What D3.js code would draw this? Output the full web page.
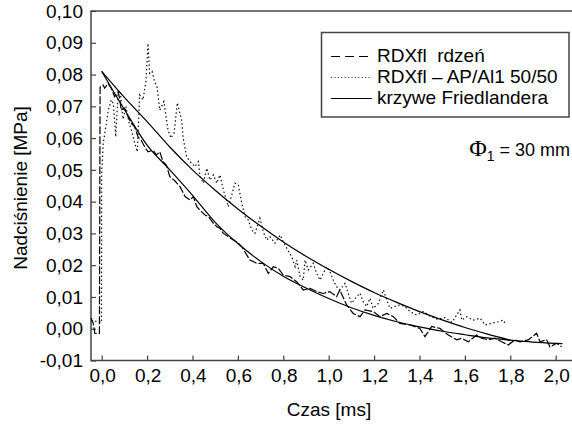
<!DOCTYPE html>
<html>
<head>
<meta charset="utf-8">
<script src="https://cdn.jsdelivr.net/npm/d3@7"></script>
<style>
  body { margin: 0; background: #fff; }
  svg { display: block; font-family: 'Liberation Sans', Arial, sans-serif; }
</style>
</head>
<body>
<svg id="chart" width="572" height="426"></svg>
<script>
// RDXfl rdzeń (dashed)
const rdzenTime = [-0.047, -0.038, -0.030, -0.010, -0.007, 0.006, 0.013, 0.028, 0.042, 0.057, 0.072, 0.079, 0.086,
  0.101, 0.116, 0.130, 0.145, 0.160, 0.174, 0.189, 0.204, 0.226, 0.241, 0.256, 0.270, 0.285, 0.300, 0.323, 0.345,
  0.367, 0.389, 0.404, 0.419, 0.433, 0.455, 0.470, 0.492, 0.507, 0.521, 0.536, 0.558, 0.580, 0.602, 0.617, 0.653,
  0.683, 0.712, 0.734, 0.756, 0.778, 0.800, 0.830, 0.859, 0.888, 0.918, 0.947, 0.976, 1.005, 1.035, 1.049, 1.079,
  1.108, 1.138, 1.160, 1.196, 1.226, 1.256, 1.285, 1.314, 1.358, 1.402, 1.424, 1.454, 1.490, 1.527, 1.564, 1.586,
  1.615, 1.652, 1.674, 1.703, 1.733, 1.762, 1.791, 1.821, 1.843, 1.879, 1.916, 1.931, 1.960, 1.975, 2.004, 2.026]
const rdzenP = [0.0034, 0.0019, -0.0015, -0.0015, 0.0760, 0.0767, 0.0757, 0.0772, 0.0757, 0.0730, 0.0746, 0.0725, 0.0688,
  0.0694, 0.0667, 0.0646, 0.0636, 0.0604, 0.0594, 0.0573, 0.0557, 0.0562, 0.0547, 0.0557, 0.0526, 0.0515, 0.0479, 0.0465, 0.0447,
  0.0416, 0.0405, 0.0416, 0.0384, 0.0373, 0.0358, 0.0353, 0.0332, 0.0321, 0.0316, 0.0300, 0.0290, 0.0279, 0.0269, 0.0258, 0.0216,
  0.0206, 0.0206, 0.0174, 0.0195, 0.0190, 0.0169, 0.0164, 0.0148, 0.0122, 0.0127, 0.0117, 0.0111, 0.0117, 0.0101, 0.0122, 0.0075,
  0.0048, 0.0038, 0.0059, 0.0054, 0.0038, 0.0048, 0.0038, 0.0017, 0.0012, 0.0001, -0.0025, 0.0007, 0.0001, -0.0020, -0.0035, -0.0030,
  -0.0041, -0.0020, -0.0030, -0.0035, -0.0030, -0.0041, -0.0051, -0.0035, -0.0041, -0.0035, -0.0014, -0.0041, -0.0035, -0.0057, -0.0046, -0.0057]

// RDXfl – AP/Al1 50/50 (dotted)
const apalTime = [-0.047, -0.012, -0.001, 0.000, 0.007, 0.019, 0.029, 0.042, 0.051, 0.062, 0.072, 0.081, 0.094, 0.107,
  0.120, 0.133, 0.147, 0.157, 0.167, 0.182, 0.195, 0.204, 0.211, 0.222, 0.233, 0.244, 0.256, 0.274, 0.292, 0.305,
  0.319, 0.333, 0.352, 0.359, 0.374, 0.396, 0.411, 0.426, 0.433, 0.448, 0.463, 0.477, 0.492, 0.507, 0.521, 0.536,
  0.558, 0.573, 0.587, 0.602, 0.617, 0.631, 0.646, 0.661, 0.675, 0.697, 0.712, 0.727, 0.741, 0.763, 0.786, 0.807,
  0.837, 0.852, 0.859, 0.874, 0.888, 0.896, 0.910, 0.932, 0.947, 0.962, 0.976, 0.991, 1.005, 1.020, 1.035, 1.050,
  1.072, 1.086, 1.101, 1.123, 1.138, 1.152, 1.167, 1.182, 1.196, 1.219, 1.241, 1.256, 1.270, 1.292, 1.314, 1.336,
  1.358, 1.388, 1.417, 1.446, 1.477, 1.512, 1.543, 1.578, 1.586, 1.608, 1.637, 1.667, 1.689, 1.718, 1.747, 1.769, 1.777]
const apalP = [0.0025, 0.0022, 0.0020, 0.0490, 0.0584, 0.0640, 0.0688, 0.0720, 0.0710, 0.0604, 0.0741, 0.0750, 0.0660, 0.0700,
  0.0650, 0.0620, 0.0580, 0.0557, 0.0736, 0.0720, 0.0780, 0.0898, 0.0804, 0.0810, 0.0778, 0.0760, 0.0688, 0.0715, 0.0626, 0.0600,
  0.0616, 0.0711, 0.0657, 0.0600, 0.0541, 0.0521, 0.0510, 0.0526, 0.0479, 0.0458, 0.0505, 0.0468, 0.0484, 0.0458, 0.0484, 0.0437,
  0.0384, 0.0421, 0.0458, 0.0452, 0.0395, 0.0353, 0.0342, 0.0311, 0.0300, 0.0348, 0.0305, 0.0279, 0.0290, 0.0269, 0.0295, 0.0264,
  0.0227, 0.0195, 0.0216, 0.0164, 0.0153, 0.0216, 0.0185, 0.0206, 0.0174, 0.0153, 0.0174, 0.0195, 0.0180, 0.0153, 0.0132, 0.0122,
  0.0143, 0.0112, 0.0080, 0.0101, 0.0112, 0.0085, 0.0070, 0.0096, 0.0064, 0.0080, 0.0122, 0.0090, 0.0064, 0.0070, 0.0075, 0.0070,
  0.0054, 0.0043, 0.0054, 0.0040, 0.0030, 0.0035, 0.0020, 0.0059, 0.0027, 0.0038, 0.0027, 0.0033, 0.0012, 0.0017, 0.0022, 0.0027, 0.0017]

// krzywe Friedlandera (solid)
const friedTime = [0, 0.1, 0.2, 0.3, 0.4, 0.5, 0.6, 0.7, 0.8, 0.9, 1.0, 1.1, 1.2, 1.3, 1.4, 1.5, 1.6, 1.7, 1.8, 1.9, 2.0, 2.03]
const friedLower = [0.081, 0.0690, 0.0578, 0.0500, 0.0420, 0.0335, 0.0268, 0.0212, 0.0165, 0.0128, 0.0095, 0.0066,
  0.0042, 0.0022, 0.0006, -0.0008, -0.0019, -0.0029, -0.0036, -0.0042, -0.0046, -0.0047]
const friedUpper = [0.081, 0.0728, 0.0652, 0.0572, 0.0500, 0.0436, 0.0377, 0.0323, 0.0273, 0.0228, 0.0187, 0.0149,
  0.0114, 0.0083, 0.0054, 0.0028, 0.0004, -0.0017, -0.0036]

const yTicks = [-0.01, 0, 0.01, 0.02, 0.03, 0.04, 0.05, 0.06, 0.07, 0.08, 0.09, 0.10]
const xTicks = [0, 0.2, 0.4, 0.6, 0.8, 1.0, 1.2, 1.4, 1.6, 1.8, 2.0]

const legendLabels = ['RDXfl  rdzeń', 'RDXfl – AP/Al1 50/50', 'krzywe Friedlandera']
const legendDash = ['9,5', '1.2,2.2', null]

const locale = d3.formatLocale({ decimal: ',', thousands: ' ', grouping: [3], currency: ['', ''], minus: '-' })
const fmtY = locale.format('.2f')
const fmtX = locale.format('.1f')

const plotLeft = 91
const plotRight = 573
const plotTop = 11
const plotBottom = 360.5

const x = d3.scaleLinear().domain([-0.0471, 2.0763]).range([plotLeft, plotRight])
const y = d3.scaleLinear().domain([-0.01, 0.10]).range([plotBottom, plotTop])

const svg = d3.select('#chart')
const ink = '#000'

function series(times, values) {
  return times.map((t, i) => [t, values[i]])
}

const line = d3.line().x(d => x(d[0])).y(d => y(d[1]))
const smooth = d3.line().x(d => x(d[0])).y(d => y(d[1])).curve(d3.curveMonotoneX)

// frame
svg.append('rect')
  .attr('x', plotLeft).attr('y', plotTop)
  .attr('width', plotRight - plotLeft).attr('height', plotBottom - plotTop)
  .attr('fill', 'none').attr('stroke', '#444').attr('stroke-width', 1.5)

// y axis (ticks inside)
const yAxis = svg.append('g')
  .attr('transform', `translate(${plotLeft},0)`)
  .call(d3.axisRight(y).tickValues(yTicks).tickSize(5).tickFormat(''))
yAxis.select('.domain').remove()
yAxis.selectAll('line').attr('stroke', '#444').attr('stroke-width', 1.2)

svg.append('g').selectAll('text')
  .data(yTicks)
  .join('text')
  .attr('x', 83)
  .attr('y', d => y(d))
  .attr('dy', '0.35em')
  .attr('text-anchor', 'end')
  .attr('font-size', 19)
  .attr('fill', ink)
  .text(d => fmtY(d))

// x axis (ticks inside)
const xAxis = svg.append('g')
  .attr('transform', `translate(0,${plotBottom})`)
  .call(d3.axisTop(x).tickValues(xTicks).tickSize(5).tickFormat(''))
xAxis.select('.domain').remove()
xAxis.selectAll('line').attr('stroke', '#444').attr('stroke-width', 1.2)

svg.append('g').selectAll('text')
  .data(xTicks)
  .join('text')
  .attr('x', d => x(d) + 1)
  .attr('y', 382)
  .attr('text-anchor', 'middle')
  .attr('font-size', 19)
  .attr('fill', ink)
  .text(d => fmtX(d))

svg.append('text')
  .attr('x', 329).attr('y', 416)
  .attr('text-anchor', 'middle')
  .attr('font-size', 19)
  .attr('fill', ink)
  .text('Czas [ms]')

svg.append('text')
  .attr('transform', 'translate(27,188) rotate(-90)')
  .attr('text-anchor', 'middle')
  .attr('font-size', 19)
  .attr('fill', ink)
  .text('Nadciśnienie [MPa]')

// data
svg.append('path')
  .datum(series(apalTime, apalP))
  .attr('d', line)
  .attr('fill', 'none').attr('stroke', '#111').attr('stroke-width', 1.2)
  .attr('stroke-dasharray', '1.5,2.5')

svg.append('path')
  .datum(series(rdzenTime, rdzenP))
  .attr('d', line)
  .attr('fill', 'none').attr('stroke', ink).attr('stroke-width', 1.2)
  .attr('stroke-dasharray', '8,2')

svg.append('path')
  .datum(series(friedTime, friedLower))
  .attr('d', smooth)
  .attr('fill', 'none').attr('stroke', ink).attr('stroke-width', 1.2)

svg.append('path')
  .datum(series(friedTime.slice(0, friedUpper.length), friedUpper))
  .attr('d', smooth)
  .attr('fill', 'none').attr('stroke', ink).attr('stroke-width', 1.2)

// legend
const legend = svg.append('g')
legend.append('rect')
  .attr('x', 321.5).attr('y', 32.5).attr('width', 247.5).attr('height', 84.5)
  .attr('fill', '#fff').attr('stroke', '#444').attr('stroke-width', 1.5)

const rows = legend.selectAll('g.row')
  .data(legendLabels)
  .join('g')
  .attr('class', 'row')
  .attr('transform', (d, i) => `translate(0,${62 + i * 21})`)

rows.append('line')
  .attr('x1', 331).attr('x2', 372)
  .attr('y1', -5.5).attr('y2', -5.5)
  .attr('stroke', (d, i) => i === 1 ? '#444' : ink)
  .attr('stroke-width', 1.1)
  .attr('stroke-dasharray', (d, i) => legendDash[i])

rows.append('text')
  .attr('x', 377)
  .attr('font-size', 19)
  .attr('fill', ink)
  .style('white-space', 'pre')
  .text(d => d)

// annotation
const note = svg.append('text')
  .attr('x', 570).attr('y', 156)
  .attr('text-anchor', 'end')
  .attr('font-size', 18)
  .attr('fill', ink)
note.append('tspan').attr('font-family', "'Liberation Serif', 'DejaVu Serif', serif").attr('font-size', 24).text('Φ')
note.append('tspan').attr('font-size', 14).attr('dy', 5).text('1')
note.append('tspan').attr('dy', -5).text(' = 30 mm')
</script>
</body>
</html>
